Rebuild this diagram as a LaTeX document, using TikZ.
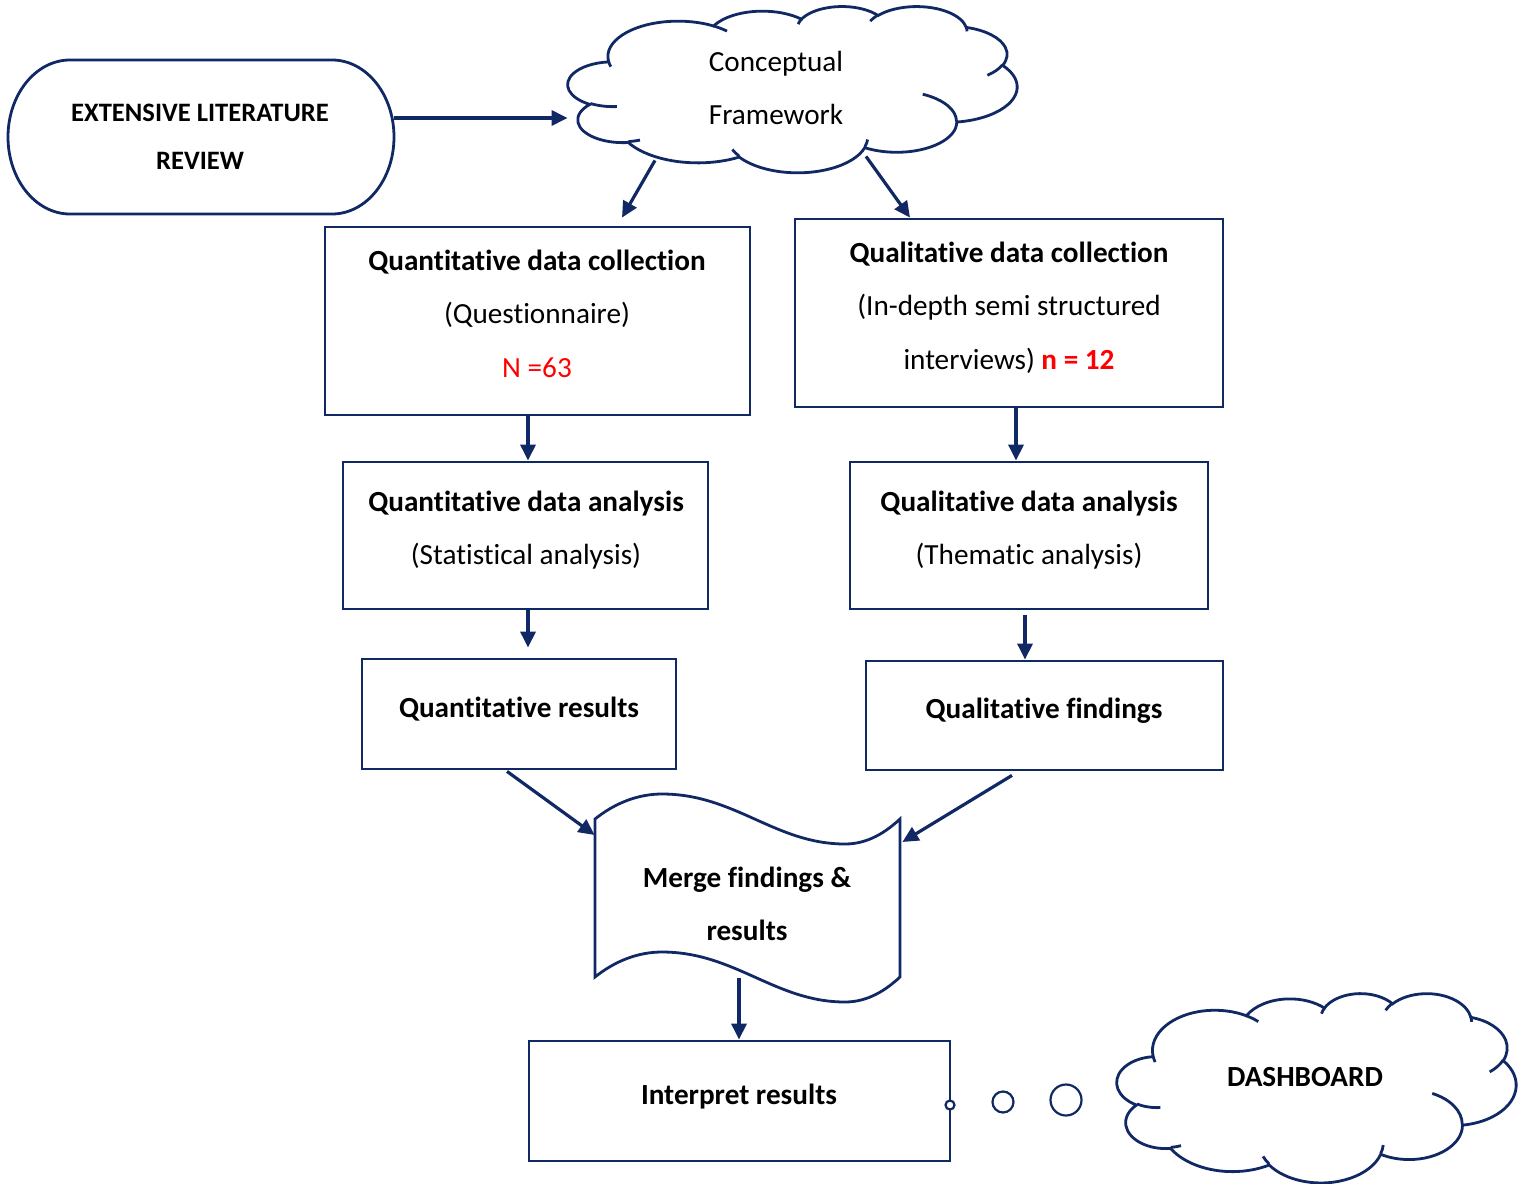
\documentclass[tikz,border=0pt]{standalone}
\usepackage{fontspec}
\setmainfont{Carlito}[Ligatures=NoCommon]
\usetikzlibrary{arrows.meta,calc}
\definecolor{navy}{RGB}{16,40,100}

% Arc of the office cloud outline: the angles are given along the ray
% (visual angles); convert them to the parametric angles of the ellipse.
\newcommand\cldang[4]{%
  \pgfmathsetmacro\cldS{atan2(sin(#3)/#2,cos(#3)/#1)}%
  \pgfmathsetmacro\cldE{atan2(sin(#3+#4)/#2,cos(#3+#4)/#1)}%
  \pgfmathsetmacro\cldE{\cldS+mod((\cldE)-(\cldS)+720,360)}%
  \global\let\cldS\cldS\global\let\cldE\cldE}
\newcommand\cldpart[4]{\pgfextra{\cldang{#1}{#2}{#3}{#4}} arc[x radius=#1,y radius=#2,start angle=\cldS,end angle=\cldE]}

% cloud in a 432 x 432 box, placed at (#1,#2) with units #3, #4
\newcommand\wordcloud[4]{%
\begin{scope}[shift={(#1,#2)},x=#3,y=#4]
 \draw[line,fill=white] (39.00,143.70)
   \cldpart{67.53}{91.90}{-190.4875}{123.7805}
   \cldpart{53.33}{72.67}{-144.1024}{89.9452}
   \cldpart{43.65}{59.45}{-145.8079}{99.7230}
   \cldpart{48.57}{65.95}{-130.9861}{117.2417}
   \cldpart{53.33}{72.73}{-78.7089}{109.0269}
   \cldpart{67.75}{92.20}{-46.2673}{130.2690}
   \cldpart{57.85}{78.67}{0.6250}{114.0333}
   \cldpart{67.52}{92.15}{22.4516}{115.1726}
   \cldpart{77.20}{105.43}{66.2426}{75.7110}
   \cldpart{43.60}{59.18}{-274.9421}{146.7356}
   \cldpart{43.45}{59.45}{-246.8285}{152.5189}
   -- cycle;
 \draw[line] (46.93,261.77) \cldpart{43.45}{59.45}{86.7420}{26.4295}
       (69.28,348.99) \cldpart{43.60}{59.18}{73.6105}{11.4475}
       (164.78,390.90) \cldpart{67.52}{92.15}{137.6242}{14.0811}
       (288.27,347.51) \cldpart{67.52}{92.15}{6.4533}{15.9984}
       (341.29,229.54) \cldpart{57.85}{78.67}{-70.2924}{70.9174}
       (417.98,153.54) \cldpart{53.33}{72.73}{30.3180}{27.7515}
       (383.24,54.26) \cldpart{48.57}{65.95}{-13.7443}{14.8589}
       (290.78,39.52) \cldpart{48.57}{65.95}{-149.1815}{18.1954}
       (221.41,47.20) \cldpart{43.65}{59.45}{-163.4943}{17.6864}
       (140.00,51.92) \cldpart{67.53}{91.90}{-66.7070}{12.3194}
       (41.27,157.89) \cldpart{67.53}{91.90}{157.6544}{11.8582};
\end{scope}}

\tikzset{
  line/.style={draw=navy, line width=1.4pt},
  arr/.style={draw=navy, line width=1.6pt, -{Triangle[length=8pt,width=7.5pt]}},
  txt/.style={align=center, inner sep=0pt, font=\fontsize{14.6}{26.8}\selectfont},
  box/.style={line, rectangle, inner sep=0pt},
  hold/.style={rectangle, inner sep=0pt},
  bubble/.style={line, circle, fill=white, inner sep=0pt, line width=1.1pt},
}

\begin{document}
\begin{tikzpicture}[x=0.5pt,y=-0.5pt]
\useasboundingbox (0,0) rectangle (1525,1183);

% start: literature review (terminator shape)
\node[hold, minimum width=193pt, minimum height=77pt] (lit) at (201,137) {};
\draw[line] (70,60) -- (332,60)
  arc[x radius=62, y radius=77, start angle=-90, end angle=90] -- (70,214)
  arc[x radius=62, y radius=77, start angle=90, end angle=270] -- cycle;
\node[txt, font=\fontsize{13.3}{24}\selectfont\bfseries] (litT) at (200,137)
  {EXTENSIVE LITERATURE\\REVIEW};

% conceptual framework cloud
\wordcloud{568}{6}{0.519676pt}{-0.192130pt}
\node[hold, minimum width=224.5pt, minimum height=83pt] (cf) at (792.5,89) {};
\node[txt] (cfT) at (776,88) {Conceptual\\Framework};

% quantitative strand
\node[box, minimum width=212.5pt, minimum height=94pt] (qc) at (537.5,321) {};
\node[txt] (qcT) at (537,313.5)
  {\textbf{Quantitative data collection}\\(Questionnaire)\\\textcolor{red}{N =63}};
\node[box, minimum width=182.5pt, minimum height=73.5pt] (qa) at (525.5,535.5) {};
\node[txt] (qaT) at (526,530)
  {\textbf{Quantitative data analysis}\\(Statistical analysis)};
\node[box, minimum width=157pt, minimum height=55pt] (qr) at (519,714) {};
\node[txt] (qrT) at (519,709) {\textbf{Quantitative results}};

% qualitative strand
\node[box, minimum width=214pt, minimum height=94pt] (qlc) at (1009,313) {};
\node[txt] (qlcT) at (1009,307.5)
  {\textbf{Qualitative data collection}\\(In-depth semi structured\\interviews) \textcolor{red}{\textbf{n = 12}}};
\node[box, minimum width=179pt, minimum height=73.5pt] (qla) at (1029,535.5) {};
\node[txt] (qlaT) at (1029,530)
  {\textbf{Qualitative data analysis}\\(Thematic analysis)};
\node[box, minimum width=178.5pt, minimum height=54.5pt] (qlf) at (1044.5,715.5) {};
\node[txt] (qlfT) at (1044,710.5) {\textbf{Qualitative findings}};

% merge (punched tape)
\node[hold, minimum width=152.5pt, minimum height=105pt] (merge) at (747.5,898) {};
\draw[line, fill=white] (595,819)
  .. controls (615,803) and (638,794) .. (662,794)
  .. controls (735,794) and (775,844) .. (845,844)
  .. controls (868,844) and (886,832) .. (900,819) -- (900,977)
  .. controls (886,990) and (868,1002) .. (845,1002)
  .. controls (775,1002) and (735,952) .. (662,952)
  .. controls (638,952) and (615,961) .. (595,977) -- cycle;
\node[txt] (mergeT) at (747,904) {\textbf{Merge findings \&}\\\textbf{results}};

% interpretation
\node[box, minimum width=210.5pt, minimum height=60pt] (ir) at (739.5,1101) {};
\node[txt] (irT) at (739,1096.5) {\textbf{Interpret results}};

% dashboard thought cloud
\wordcloud{1117}{993}{0.461806pt}{-0.218750pt}
\node[hold, minimum width=199pt, minimum height=94.5pt] (dash) at (1316,1087.5) {};
\node[txt] (dashT) at (1305,1077) {\textbf{DASHBOARD}};
\node[bubble, minimum size=4.5pt] (b1) at (950,1105) {};
\node[bubble, minimum size=10.5pt] (b2) at (1003,1102) {};
\node[bubble, minimum size=15.5pt] (b3) at (1066,1100) {};

% connectors
\coordinate (litout) at ($(lit.east)+(0,-19)$);
\draw[arr] (litout) -- (litout -| cf.west);
\draw[arr] ($(cf.south)+(-137.5,-12)$) -- ($(qc.north)+(84.5,-8)$);
\draw[arr] ($(cf.south)+(73.5,-16)$) -- ($(qlc.north)+(-99,0)$);
\draw[arr] ($(qc.south)+(-9.5,0)$) coordinate (a4) -- (a4 |- qa.north);
\draw[arr] ($(qlc.south)+(7,0)$) coordinate (a5) -- (a5 |- qla.north);
\draw[arr] ($(qa.south)+(2.5,0)$) coordinate (a6) -- ($(a6 |- qr.north)+(0,-10)$);
\draw[arr] ($(qla.south)+(-4,5)$) coordinate (a7) -- (a7 |- qlf.north);
\draw[arr] ($(qr.south)+(-12,1)$) -- ($(merge.west)+(0,-63)$);
\draw[arr] ($(qlf.south)+(-32.5,4)$) -- ($(merge.east)+(2,-56)$);
\draw[arr] ($(merge.south)+(-8.5,-25)$) coordinate (a10) -- (a10 |- ir.north);
\end{tikzpicture}
\end{document}
